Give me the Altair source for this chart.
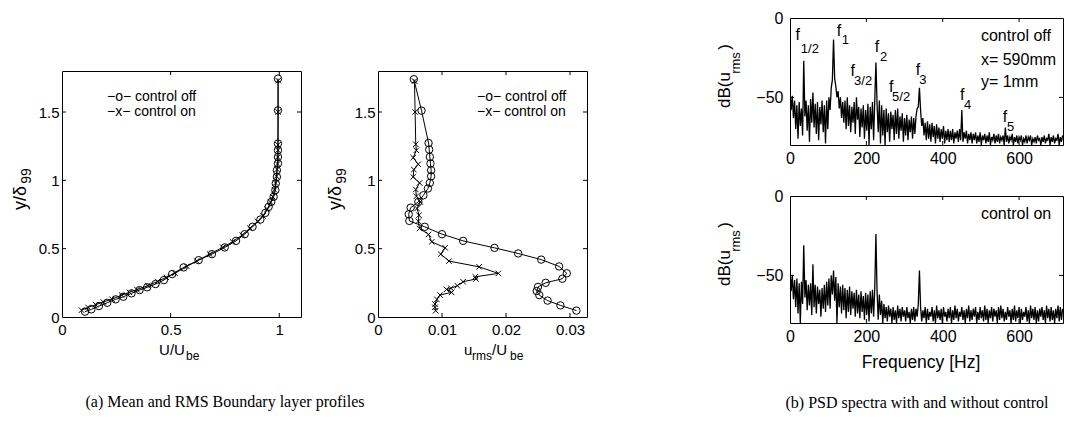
import altair as alt
import pandas as pd

FONT = "Liberation Sans"
SERIF = "Liberation Serif"

# ---------------- data ----------------
# (a) mean profile U/Ube vs y/delta99
P1_OFF_X = [0.106, 0.135, 0.170, 0.208, 0.247, 0.282, 0.320, 0.357, 0.392, 0.430,
            0.469, 0.507, 0.560, 0.629, 0.690, 0.749, 0.801, 0.841, 0.877, 0.913,
            0.936, 0.951, 0.963, 0.974, 0.982, 0.984, 0.989, 0.989, 0.994, 0.994,
            0.994, 0.994, 0.994, 0.994]
P1_OFF_Y = [0.039, 0.056, 0.080, 0.104, 0.129, 0.148, 0.173, 0.197, 0.217, 0.241,
            0.270, 0.314, 0.363, 0.416, 0.460, 0.509, 0.557, 0.606, 0.660, 0.713,
            0.762, 0.806, 0.842, 0.879, 0.928, 0.977, 1.025, 1.074, 1.123, 1.171,
            1.220, 1.269, 1.512, 1.744]
P1_ON_X = [0.09, 0.12, 0.155, 0.19, 0.23, 0.275, 0.31, 0.345, 0.395, 0.44,
           0.48, 0.52, 0.575, 0.62, 0.68, 0.74, 0.785, 0.83, 0.865, 0.9,
           0.925, 0.945, 0.96, 0.97, 0.978, 0.983, 0.987, 0.99, 0.992, 0.993,
           0.994, 0.994, 0.995, 0.995]
P1_ON_Y = [0.05, 0.07, 0.09, 0.11, 0.13, 0.16, 0.18, 0.20, 0.23, 0.26,
           0.29, 0.32, 0.37, 0.41, 0.46, 0.51, 0.55, 0.60, 0.65, 0.70,
           0.74, 0.79, 0.84, 0.88, 0.93, 0.98, 1.03, 1.08, 1.12, 1.17,
           1.22, 1.26, 1.50, 1.73]

# (a) rms profile urms/Ube vs y/delta99
P2_OFF_X = [0.0056, 0.0068, 0.0079, 0.0080, 0.0081, 0.0082, 0.0083, 0.0083, 0.0081, 0.0078,
            0.0071, 0.0063, 0.0051, 0.0048, 0.0049, 0.0073, 0.0100, 0.0133, 0.0182, 0.0219,
            0.0255, 0.0283, 0.0295, 0.0288, 0.0262, 0.0250, 0.0248, 0.0252, 0.0265, 0.0285,
            0.0310]
P2_OFF_Y = [1.74, 1.51, 1.273, 1.225, 1.171, 1.123, 1.074, 1.03, 0.981, 0.94,
            0.891, 0.842, 0.80, 0.752, 0.703, 0.66, 0.606, 0.557, 0.506, 0.465,
            0.42, 0.37, 0.32, 0.28, 0.25, 0.22, 0.19, 0.16, 0.12, 0.085,
            0.047]
P2_ON_X = [0.0057, 0.0058, 0.0059, 0.0060, 0.0055, 0.0063, 0.0056, 0.0055, 0.0065, 0.0059,
           0.0060, 0.0066, 0.0061, 0.0064, 0.0063, 0.0065, 0.0079, 0.0084, 0.0105, 0.0098,
           0.0111, 0.0158, 0.0188, 0.0152, 0.0153, 0.0133, 0.0124, 0.0114, 0.0107, 0.0115,
           0.0097, 0.0092, 0.0089, 0.0089, 0.0090]
P2_ON_Y = [1.726, 1.50, 1.264, 1.22, 1.166, 1.118, 1.079, 1.025, 0.981, 0.933,
           0.884, 0.842, 0.794, 0.745, 0.701, 0.648, 0.604, 0.55, 0.506, 0.46,
           0.409, 0.367, 0.319, 0.294, 0.278, 0.258, 0.229, 0.21, 0.202, 0.18,
           0.161, 0.129, 0.095, 0.071, 0.046]

# (b) PSD spectra, dB values sampled every FREQ_STEP Hz starting at 0 Hz
FREQ_STEP = 3
PSD_OFF = [
    -46, -58, -49, -63, -52, -70, -55, -76, -53, -68,
    -57, -74, -27, -62, -52, -71, -55, -78, -51, -66,
    -47, -69, -54, -73, -53, -77, -56, -67, -52, -72,
    -55, -79, -52, -70, -50, -58, -44, -39, -13.5, -38,
    -43, -50, -46, -57, -50, -63, -53, -66, -52, -70,
    -50, -68, -55, -72, -56, -66, -53, -73, -50, -64,
    -56, -75, -57, -69, -55, -76, -58, -71, -54, -80,
    -56, -70, -53, -77, -52, -28, -54, -72, -52, -79,
    -55, -74, -58, -80, -57, -72, -60, -78, -59, -70,
    -61, -77, -58, -73, -57, -76, -62, -71, -60, -78,
    -63, -74, -61, -77, -64, -72, -62, -76, -63, -73,
    -62, -57, -56, -44, -58, -68, -63, -74, -66, -77,
    -65, -76, -67, -78, -66, -75, -68, -79, -67, -76,
    -69, -78, -70, -76, -68, -79, -71, -77, -70, -78,
    -71, -77, -70, -79, -72, -76, -71, -78, -70, -77,
    -58, -78, -72, -76, -71, -79, -73, -77, -72, -79,
    -73, -77, -72, -79, -74, -78, -72, -80, -74, -77,
    -73, -79, -74, -78, -72, -80, -75, -77, -73, -79,
    -74, -78, -73, -79, -75, -77, -74, -80, -69, -78,
    -74, -79, -75, -77, -73, -80, -75, -78, -74, -79,
    -75, -77, -74, -80, -76, -78, -74, -79, -75, -77,
    -74, -80, -76, -78, -75, -79, -74, -77, -76, -80,
    -75, -78, -74, -79, -76, -77, -73, -80, -75, -78,
    -74, -79, -76, -77, -73, -80, -75, -78, -74,
]
PSD_ON = [
    -47, -60, -50, -65, -53, -70, -52, -74, -55, -80,
    -54, -68, -31, -64, -53, -72, -56, -69, -55, -75,
    -43, -70, -56, -74, -57, -68, -59, -76, -58, -71,
    -56, -73, -54, -69, -52, -71, -50, -62, -47, -66,
    -51, -80, -55, -70, -57, -74, -56, -72, -58, -77,
    -59, -73, -57, -75, -60, -71, -61, -76, -59, -74,
    -62, -77, -60, -73, -63, -78, -61, -75, -62, -79,
    -60, -74, -59, -76, -58, -24, -60, -78, -62, -75,
    -66, -80, -68, -77, -70, -79, -69, -76, -71, -80,
    -70, -78, -72, -80, -69, -77, -71, -79, -70, -76,
    -72, -79, -70, -77, -73, -80, -71, -78, -70, -79,
    -71, -76, -68, -47, -70, -79, -72, -77, -70, -80,
    -71, -78, -73, -76, -70, -79, -72, -80, -69, -77,
    -72, -78, -71, -80, -70, -76, -73, -79, -71, -77,
    -70, -80, -72, -78, -69, -77, -71, -79, -73, -76,
    -70, -78, -72, -80, -71, -77, -69, -79, -72, -78,
    -71, -76, -70, -80, -73, -78, -70, -77, -72, -79,
    -69, -78, -71, -80, -72, -77, -70, -79, -71, -76,
    -72, -80, -70, -78, -69, -77, -71, -79, -73, -78,
    -70, -76, -72, -80, -71, -78, -69, -79, -72, -77,
    -70, -80, -71, -78, -73, -76, -70, -79, -72, -80,
    -69, -77, -71, -78, -70, -80, -72, -79, -71, -76,
    -70, -78, -72, -80, -69, -77, -71, -79, -70, -78,
    -72, -80, -71, -77, -69, -79, -70, -78, -71,
]

# harmonic labels: "f" positions (Hz, dB) and subscripts
F_LABEL_X = [20, 128, 228, 164, 265, 335, 451, 563]
F_LABEL_Y = [-10.4, -7.9, -18, -33.3, -43.7, -32.7, -48.5, -62.5]
SUB_TEXT = ["1/2", "1", "2", "3/2", "5/2", "3", "4", "5"]
SUB_X = [52, 145, 245, 191.5, 291, 348, 465, 578]
SUB_Y = [-19.8, -14, -24.6, -39.6, -50, -39, -54.6, -68.7]

INFO_TEXT = ["control off", "x= 590mm", "y= 1mm"]
INFO_Y = [-11.4, -26.6, -40.6]

LEGEND_TEXT = ["\u2212o\u2212 control off", "\u2212x\u2212 control on"]
LEGEND_Y = [1.61, 1.50]

DUMMY = pd.DataFrame({"a": [0]})
X_SHAPE = "M -1 -1 L 1 1 M -1 1 L 1 -1"

W1, H1 = 239, 246
W2 = 209
W3, H3 = 273, 127
GAP12 = 77
GAP_LR = 127


def xenc(domain, values, fs, pad=5):
    return alt.X("x:Q", scale=alt.Scale(domain=domain, nice=False, zero=False),
                 axis=alt.Axis(values=values, format="~r", title=None, grid=False, ticks=False,
                               domain=False, labelFont=FONT, labelFontSize=fs, labelColor="black",
                               labelPadding=pad, labelFlush=False, labelOverlap=False))


def yenc(domain, values, fs, pad=3):
    return alt.Y("y:Q", scale=alt.Scale(domain=domain, nice=False, zero=False),
                 axis=alt.Axis(values=values, format="~r", title=None, grid=False, ticks=False,
                               domain=False, labelFont=FONT, labelFontSize=fs, labelColor="black",
                               labelPadding=pad, labelFlush=False, labelOverlap=False))


def inward_ticks(xv, yv, X, Y, w, h, L=4):
    dx = pd.DataFrame({"x": xv})
    dy = pd.DataFrame({"y": yv})
    r = dict(color="black", strokeWidth=1)
    return [
        alt.Chart(dx).mark_rule(**r).encode(x=X, y=alt.value(h), y2=alt.value(h - L)),
        alt.Chart(dx).mark_rule(**r).encode(x=X, y=alt.value(0), y2=alt.value(L)),
        alt.Chart(dy).mark_rule(**r).encode(y=Y, x=alt.value(0), x2=alt.value(L)),
        alt.Chart(dy).mark_rule(**r).encode(y=Y, x=alt.value(w), x2=alt.value(w - L)),
    ]


def label(text, px, py, size=15, angle=0, align="center", font=FONT):
    return alt.Chart(DUMMY).mark_text(text=text, fontSize=size, angle=angle, align=align,
                                      baseline="middle", font=font, color="black").encode(
        x=alt.value(px), y=alt.value(py))


def profile_layers(xo, yo, xn, yn, X, Y):
    d_off = pd.DataFrame({"x": xo, "y": yo, "i": list(range(len(xo)))})
    d_on = pd.DataFrame({"x": xn, "y": yn, "i": list(range(len(xn)))})
    return [
        alt.Chart(d_on).mark_line(color="black", strokeWidth=1).encode(x=X, y=Y, order="i:Q"),
        alt.Chart(d_off).mark_line(color="black", strokeWidth=1).encode(x=X, y=Y, order="i:Q"),
        alt.Chart(d_off).mark_point(shape="circle", filled=False, color="black", size=55,
                                    strokeWidth=1, opacity=1).encode(x=X, y=Y),
        alt.Chart(d_on).mark_point(shape=X_SHAPE, filled=False, color="black", size=30,
                                   strokeWidth=1, opacity=1).encode(x=X, y=Y),
    ]


def legend_layer(x0, X, Y):
    d = pd.DataFrame({"x": [x0] * len(LEGEND_TEXT), "y": LEGEND_Y, "t": LEGEND_TEXT})
    return alt.Chart(d).mark_text(align="left", baseline="middle", fontSize=14, font=FONT,
                                  color="black").encode(x=X, y=Y, text="t:N")


def ytitle_delta(dx):
    return [
        label("y/\u03b4", dx, 127, size=18, angle=270),
        label("99", dx + 6, 105, size=14, angle=270),
    ]


# ---------------- panel 1 ----------------
X1 = xenc([0, 1.1], [0, 0.5, 1], 15)
Y1 = yenc([0, 1.8], [0, 0.5, 1, 1.5], 15)
p1 = alt.layer(
    *profile_layers(P1_OFF_X, P1_OFF_Y, P1_ON_X, P1_ON_Y, X1, Y1),
    legend_layer(0.207, X1, Y1),
    *inward_ticks([0.5, 1], [0.5, 1, 1.5], X1, Y1, W1, H1),
    *ytitle_delta(-41),
    label("U/U", 110, 279, size=15),
    label("be", 124, 285, size=12, align="left"),
    label("(a) Mean and RMS Boundary layer profiles", 163, 331, size=16, font=SERIF),
).properties(width=W1, height=H1)

# ---------------- panel 2 ----------------
X2 = xenc([0, W2 / 6400], [0, 0.01, 0.02, 0.03], 15)
Y2 = yenc([0, 1.8], [0, 0.5, 1, 1.5], 15)
p2 = alt.layer(
    *profile_layers(P2_OFF_X, P2_OFF_Y, P2_ON_X, P2_ON_Y, X2, Y2),
    legend_layer(0.01547, X2, Y2),
    *inward_ticks([0.01, 0.02, 0.03], [0.5, 1, 1.5], X2, Y2, W2, H1),
    *ytitle_delta(-42),
    label("u", 86, 279, size=15, align="left"),
    label("rms", 94, 285, size=12, align="left"),
    label("/U", 114, 279, size=15, align="left"),
    label("be", 132, 285, size=12, align="left"),
).properties(width=W2, height=H1)

# ---------------- spectra ----------------
X3 = xenc([0, 715], [0, 200, 400, 600], 16)
Y3 = yenc([-80, 0], [-50, 0], 16, pad=7)


def spectrum_panel(vals, top):
    d = pd.DataFrame({"x": [FREQ_STEP * i for i in range(len(vals))], "y": vals})
    layers = [
        alt.Chart(d).mark_line(color="black", strokeWidth=1.3, clip=True).encode(x=X3, y=Y3),
        *inward_ticks([200, 400, 600], [-50], X3, Y3, W3, H3),
        label("dB(u", -65, 72, size=17, angle=270),
        label("rms", -54, 45, size=13, angle=270),
        label(")", -65, 29, size=17, angle=270),
    ]
    if top:
        df_f = pd.DataFrame({"x": F_LABEL_X, "y": F_LABEL_Y, "t": ["f"] * len(F_LABEL_X)})
        df_s = pd.DataFrame({"x": SUB_X, "y": SUB_Y, "t": SUB_TEXT})
        df_i = pd.DataFrame({"x": [500] * 3, "y": INFO_Y, "t": INFO_TEXT})
        layers += [
            alt.Chart(df_f).mark_text(fontSize=16, font=FONT, color="black").encode(x=X3, y=Y3, text="t:N"),
            alt.Chart(df_s).mark_text(fontSize=13, font=FONT, color="black").encode(x=X3, y=Y3, text="t:N"),
            alt.Chart(df_i).mark_text(fontSize=16, font=FONT, color="black", align="left").encode(
                x=X3, y=Y3, text="t:N"),
        ]
    else:
        df_i = pd.DataFrame({"x": [500], "y": [-11.4], "t": ["control on"]})
        layers += [
            alt.Chart(df_i).mark_text(fontSize=16, font=FONT, color="black", align="left").encode(
                x=X3, y=Y3, text="t:N"),
            label("Frequency [Hz]", 131, 167, size=17.5),
            label("(b) PSD spectra with and without control", 127, 207, size=16, font=SERIF),
        ]
    return alt.layer(*layers).properties(width=W3, height=H3)


p3 = spectrum_panel(PSD_OFF, True)
p4 = spectrum_panel(PSD_ON, False)

spacer = alt.Chart(DUMMY).mark_point(opacity=0).encode(
    x=alt.value(0), y=alt.value(0)).properties(width=W1 + GAP12 + W2, height=53,
                                               view=alt.ViewBackground(strokeOpacity=0))

left = alt.vconcat(spacer, alt.hconcat(p1, p2, spacing=GAP12, bounds="flush"),
                   spacing=0, bounds="flush")
right = alt.vconcat(p3, p4, spacing=51, bounds="flush")

chart = alt.hconcat(left, right, spacing=GAP_LR).properties(
    padding={"left": 11, "top": 9, "right": 0, "bottom": 0},
    background="white",
).configure_view(stroke="black", strokeWidth=1)

chart.save("out.html", embed_options={"renderer": "svg", "actions": False})
